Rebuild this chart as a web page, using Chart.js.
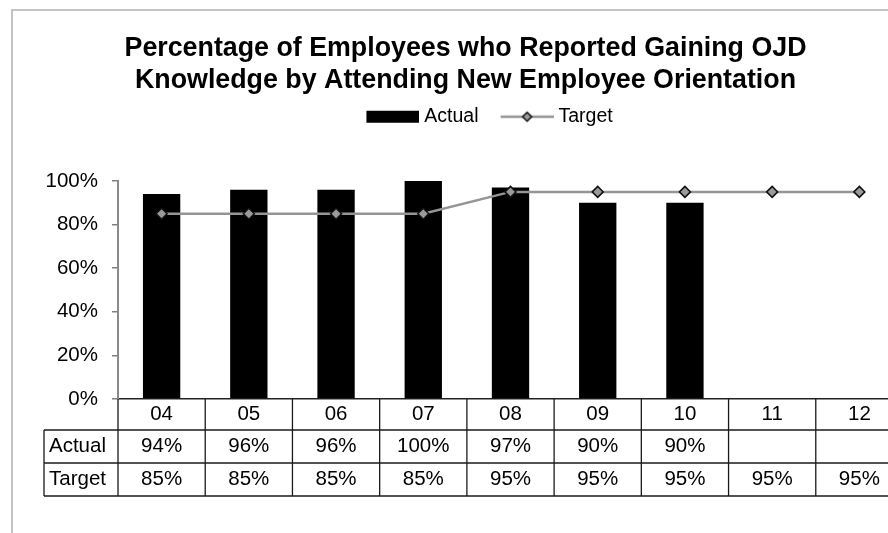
<!DOCTYPE html>
<html>
<head>
<meta charset="utf-8">
<script src="https://cdn.jsdelivr.net/npm/chart.js@4/dist/chart.umd.min.js"></script>
<style>
  html, body { margin: 0; padding: 0; background: #fff; overflow: hidden; }
  #frame { position: absolute; left: 11px; top: 9px; border: 2px solid #c4c4c4; }
  canvas { display: block; }
</style>
</head>
<body>
<div id="frame"><canvas id="chart" width="920" height="522"></canvas></div>
<script>
// chart data
const years = ['04', '05', '06', '07', '08', '09', '10', '11', '12'];
const actual = [94, 96, 96, 100, 97, 90, 90, null, null];
const target = [85, 85, 85, 85, 95, 95, 95, 95, 95];
const yTicks = [0, 20, 40, 60, 80, 100];
const titleLines = [
  'Percentage of Employees who Reported Gaining OJD',
  'Knowledge by Attending New Employee Orientation'
];

const FONT = "'Liberation Sans', Arial, sans-serif";
const LINE_GRAY = '#959595';
const MARKER_GRAY = '#9a9a9a';

Chart.defaults.font.family = FONT;
Chart.defaults.color = '#000';

// legend swatches, drawn as small canvases so line + diamond looks like excel
function swatch(kind) {
  const c = document.createElement('canvas');
  c.width = 70;
  c.height = 14;
  const g = c.getContext('2d');
  if (kind === 'bar') {
    g.fillStyle = '#000';
    g.fillRect(17, 1, 53, 12);
  } else {
    g.strokeStyle = LINE_GRAY;
    g.lineWidth = 2.5;
    g.beginPath();
    g.moveTo(17, 7);
    g.lineTo(70, 7);
    g.stroke();
    g.beginPath();
    g.moveTo(43.5, 2.5);
    g.lineTo(48, 7);
    g.lineTo(43.5, 11.5);
    g.lineTo(39, 7);
    g.closePath();
    g.fillStyle = MARKER_GRAY;
    g.fill();
    g.strokeStyle = '#111';
    g.lineWidth = 1.5;
    g.stroke();
  }
  return c;
}

// extra room under the legend, and nudge it right like the original
const legendSpacing = {
  id: 'legendSpacing',
  beforeInit(chart) {
    const fit = chart.legend.fit;
    chart.legend.fit = function () {
      fit.call(this);
      this.height += 44.5;
    };
  },
  afterLayout(chart) {
    chart.legend.left += 36;
  }
};

// data table under the plot (category row + Actual / Target rows)
const dataTable = {
  id: 'dataTable',
  afterDraw(chart) {
    const { ctx, chartArea } = chart;
    const x = chart.scales.x;
    const colW = (chartArea.right - chartArea.left) / years.length;
    const top = chartArea.bottom;
    const rowTops = [top, top + 31, top + 64, top + 97];
    const labelLeft = 31;

    ctx.save();
    ctx.strokeStyle = '#1a1a1a';
    ctx.lineWidth = 1.3;

    // horizontal lines
    for (let r = 1; r < rowTops.length; r++) {
      ctx.beginPath();
      ctx.moveTo(labelLeft, rowTops[r]);
      ctx.lineTo(chartArea.right + colW, rowTops[r]);
      ctx.stroke();
    }
    // left edge of the row labels
    ctx.beginPath();
    ctx.moveTo(labelLeft, rowTops[1]);
    ctx.lineTo(labelLeft, rowTops[3]);
    ctx.stroke();
    // column separators
    for (let i = 0; i <= years.length; i++) {
      const xp = x.getPixelForValue(i) - colW / 2;
      ctx.beginPath();
      ctx.moveTo(xp, top);
      ctx.lineTo(xp, rowTops[3]);
      ctx.stroke();
    }

    ctx.fillStyle = '#000';
    ctx.font = '20.5px ' + FONT;
    ctx.textBaseline = 'middle';

    const mid = r => (rowTops[r] + rowTops[r + 1]) / 2;
    ctx.textAlign = 'left';
    ctx.fillText('Actual', labelLeft + 5, mid(1));
    ctx.fillText('Target', labelLeft + 5, mid(2));

    ctx.textAlign = 'center';
    years.forEach((yr, i) => {
      const cx = x.getPixelForValue(i);
      ctx.fillText(yr, cx, mid(0));
      if (actual[i] != null) ctx.fillText(actual[i] + '%', cx, mid(1));
      if (target[i] != null) ctx.fillText(target[i] + '%', cx, mid(2));
    });
    ctx.restore();
  }
};

new Chart(document.getElementById('chart'), {
  data: {
    labels: years,
    datasets: [
      {
        type: 'bar',
        label: 'Actual',
        data: actual,
        backgroundColor: '#000',
        barPercentage: 0.428,
        categoryPercentage: 1,
        order: 1
      },
      {
        type: 'line',
        label: 'Target',
        data: target,
        borderColor: LINE_GRAY,
        borderWidth: 2.5,
        tension: 0,
        pointStyle: 'rectRot',
        pointRadius: 5.5,
        pointBackgroundColor: MARKER_GRAY,
        pointBorderColor: '#111',
        pointBorderWidth: 1.5,
        order: 0
      }
    ]
  },
  options: {
    responsive: false,
    animation: false,
    devicePixelRatio: 1,
    layout: { padding: { left: 0, right: 15, top: 0, bottom: 0 } },
    plugins: {
      tooltip: { enabled: false },
      title: {
        display: true,
        text: titleLines,
        color: '#000',
        font: { size: 26.8, weight: 'bold', lineHeight: 1.194 },
        padding: { top: 22, bottom: 0 }
      },
      legend: {
        display: true,
        position: 'top',
        labels: {
          usePointStyle: true,
          pointStyleWidth: 60.25,
          padding: 10,
          color: '#000',
          font: { size: 19.5 },
          generateLabels: () => [
            { text: 'Actual', pointStyle: swatch('bar'), datasetIndex: 0, hidden: false, fontColor: '#000' },
            { text: 'Target', pointStyle: swatch('line'), datasetIndex: 1, hidden: false, fontColor: '#000' }
          ]
        }
      }
    },
    scales: {
      x: {
        grid: { display: false },
        border: { display: true, color: '#222', width: 1.5 },
        ticks: { display: false },
        afterFit(s) { s.height = 134; }
      },
      y: {
        min: 0,
        max: 100,
        afterBuildTicks(s) { s.ticks = yTicks.map(v => ({ value: v })); },
        ticks: {
          padding: 14,
          color: '#000',
          font: { size: 20.5 },
          callback: v => v + '%'
        },
        grid: { drawOnChartArea: false, drawTicks: true, tickLength: 6, color: '#808080', lineWidth: 1.5 },
        border: { display: true, color: '#8a8a8a', width: 2 },
        afterFit(s) { s.width = 105; }
      },
      pad: {
        type: 'linear',
        position: 'right',
        grid: { display: false },
        border: { display: false },
        ticks: { display: false },
        afterFit(s) { s.width = 15; }
      }
    }
  },
  plugins: [legendSpacing, dataTable]
});
</script>
</body>
</html>
